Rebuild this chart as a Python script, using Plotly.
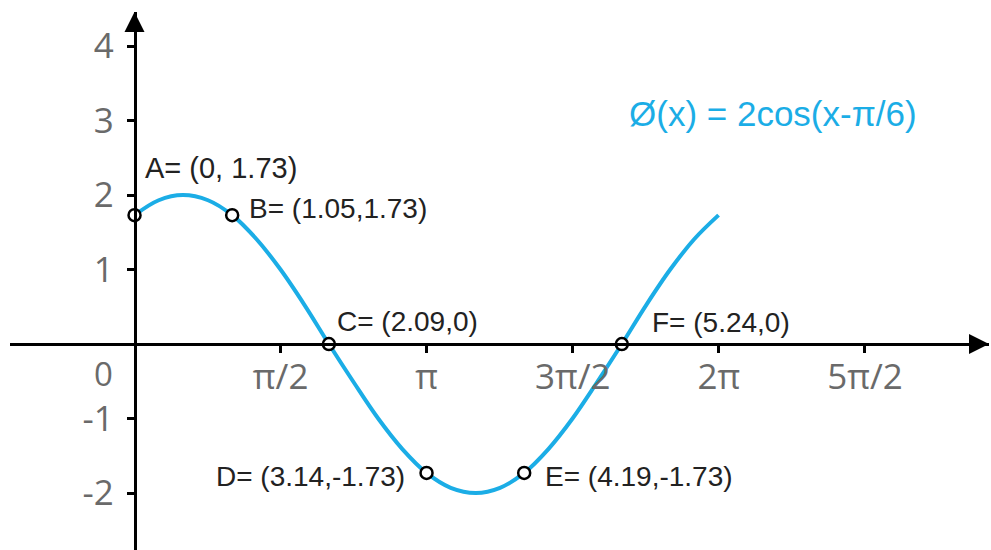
import plotly.graph_objects as go

# curve phi(x) = 2cos(x - pi/6)
curve_x = [0, 0.26, 0.52, 0.79, 1.05, 1.31, 1.57, 1.83, 2.09, 2.36, 2.62, 2.88, 3.14,
           3.40, 3.67, 3.93, 4.19, 4.45, 4.71, 4.97, 5.24, 5.50, 5.76, 6.02, 6.28]
curve_y = [1.73, 1.93, 2.0, 1.93, 1.73, 1.41, 1.0, 0.52, 0.0, -0.52, -1.0, -1.41, -1.73,
           -1.93, -2.0, -1.93, -1.73, -1.41, -1.0, -0.52, 0.0, 0.52, 1.0, 1.41, 1.73]

# labelled points
pt_names = ["A", "B", "C", "D", "E", "F"]
pt_x = [0, 1.05, 2.09, 3.14, 4.19, 5.24]
pt_y = [1.73, 1.73, 0, -1.73, -1.73, 0]
pt_text = ["A= (0, 1.73)", "B= (1.05,1.73)", "C= (2.09,0)",
           "D= (3.14,-1.73)", "E= (4.19,-1.73)", "F= (5.24,0)"]

# ticks
x_tickvals = [1.571, 3.142, 4.712, 6.283, 7.854]
x_ticktext = ["π/2", "π", "3π/2", "2π", "5π/2"]
y_tickvals = [-2, -1, 1, 2, 3, 4]
y_ticktext = ["-2", "-1", "1", "2", "3", "4"]

formula = "Ø(x) = 2cos(x-π/6)"

BLUE = "#1BADE6"
GRAY = "#6a6a6a"
INK = "#222222"

W, H = 991, 550
X0, X1 = -1.339, 9.188
Y0, Y1 = -2.765, 4.457
x_dom = [10 / W, 989 / W]
y_dom = [0, 538 / H]

# where the axes cross zero, in paper coords
x_pos = x_dom[0] + (0 - X0) / (X1 - X0) * (x_dom[1] - x_dom[0])
y_pos = y_dom[0] + (0 - Y0) / (Y1 - Y0) * (y_dom[1] - y_dom[0])

fig = go.Figure()

fig.add_trace(go.Scatter(
    x=curve_x, y=curve_y,
    mode="lines",
    line=dict(color=BLUE, width=4, shape="spline", smoothing=1.0),
    hoverinfo="skip",
))

fig.add_trace(go.Scatter(
    x=pt_x, y=pt_y,
    mode="markers",
    marker=dict(size=12, color="white", line=dict(color="black", width=2.5)),
    text=pt_names,
    cliponaxis=False,
))

# label offsets (px) relative to each point
offsets = {
    "A": ("left", 8, 47),
    "B": ("left", 15, 7),
    "C": ("left", 6, 23),
    "D": ("right", -20, -4),
    "E": ("left", 19, -4),
    "F": ("left", 28, 22),
}
for n, x, y, t in zip(pt_names, pt_x, pt_y, pt_text):
    anchor, dx, dy = offsets[n]
    fig.add_annotation(
        x=x, y=y, text=t, showarrow=False,
        xanchor=anchor, yanchor="middle", xshift=dx, yshift=dy,
        font=dict(family="Liberation Sans, Arial", size=29 if n == "A" else 28, color=INK),
    )

# origin label
fig.add_annotation(
    x=0, y=0, text="0", showarrow=False,
    xanchor="center", yanchor="middle", xshift=-31, yshift=-29,
    font=dict(family="Open Sans", size=33, color=GRAY),
)

# formula
fig.add_annotation(
    x=5.3, y=3.1, text=formula, showarrow=False,
    xanchor="left", yanchor="middle",
    font=dict(family="Liberation Sans, Arial", size=35, color=BLUE),
)

# arrowheads on axes
fig.add_annotation(x=X1, y=0, ax=-16, ay=0, text="", showarrow=True,
                   arrowhead=2, arrowsize=1.6, arrowwidth=2.5, arrowcolor="black")
fig.add_annotation(x=0, y=Y1, ax=0, ay=16, text="", showarrow=True,
                   arrowhead=2, arrowsize=1.6, arrowwidth=2.5, arrowcolor="black")

axis_common = dict(
    showgrid=False, zeroline=False, showline=True,
    linecolor="black", linewidth=2.5,
    ticks="outside", ticklen=7, tickwidth=2.5, tickcolor="black",
    tickfont=dict(family="Open Sans", size=35, color=GRAY),
    fixedrange=True,
)

fig.update_layout(
    width=W, height=H,
    margin=dict(l=0, r=0, t=0, b=0),
    paper_bgcolor="white",
    plot_bgcolor="white",
    showlegend=False,
    xaxis=dict(
        range=[X0, X1], domain=x_dom,
        anchor="free", position=y_pos,
        tickvals=x_tickvals, ticktext=x_ticktext,
        ticklabelstandoff=-6,
        **axis_common,
    ),
    yaxis=dict(
        range=[Y0, Y1], domain=y_dom,
        anchor="free", position=x_pos,
        tickvals=y_tickvals, ticktext=y_ticktext,
        ticklabelstandoff=6,
        **axis_common,
    ),
)

# page has a default body margin; drop it so the chart sits at the window corner
fig.write_html("out.html", config={"displayModeBar": False},
               post_script="document.body.style.margin='0';")
